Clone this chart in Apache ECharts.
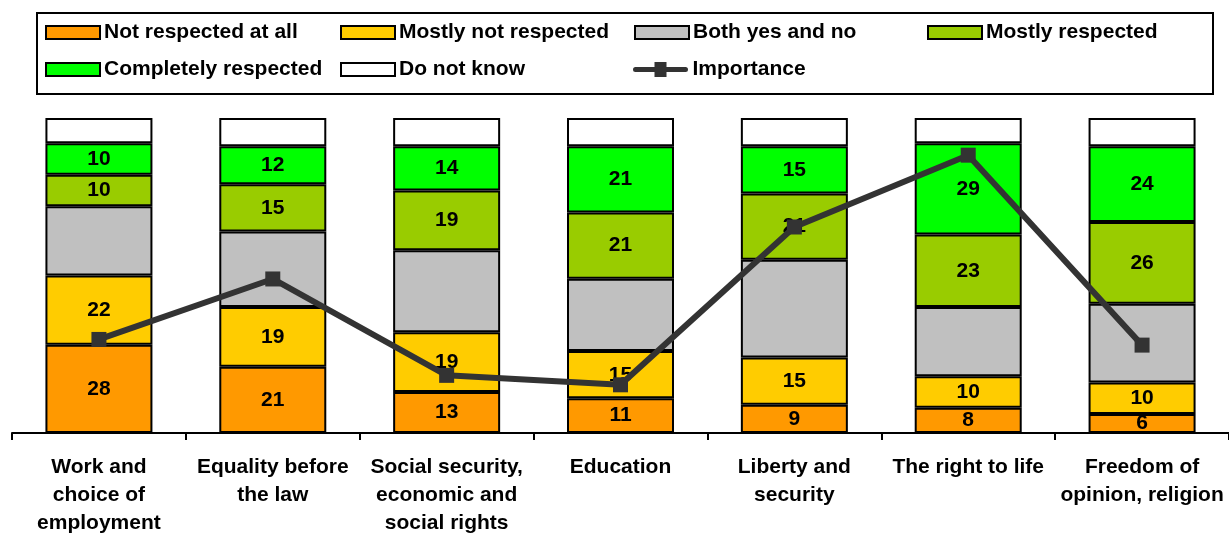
<!DOCTYPE html>
<html>
<head>
<meta charset="utf-8">
<script src="https://cdn.jsdelivr.net/npm/echarts@6/dist/echarts.min.js"></script>
<style>
html,body{margin:0;padding:0;background:#fff;}
#chart{width:1229px;height:537px;}
</style>
</head>
<body>
<div id="chart"></div>
<script>
const categories = [
  "Work and\nchoice of\nemployment",
  "Equality before\nthe law",
  "Social security,\neconomic and\nsocial rights",
  "Education",
  "Liberty and\nsecurity",
  "The right to life",
  "Freedom of\nopinion, religion"
];
const notRespected = [28, 21, 13, 11, 9, 8, 6];
const mostlyNot = [22, 19, 19, 15, 15, 10, 10];
const bothYesNo = [22, 24, 26, 23, 31, 22, 25];
const mostlyRespected = [10, 15, 19, 21, 21, 23, 26];
const completelyRespected = [10, 12, 14, 21, 15, 29, 24];
const doNotKnow = [8, 9, 9, 9, 9, 8, 9];
const importance = [29.7, 48.9, 18.3, 15.3, 65.4, 88.2, 27.9];

const FONT = '"Liberation Sans", Arial, sans-serif';
const chart = echarts.init(document.getElementById('chart'));

function barSeries(name, data, color, showLabel) {
  return {
    name: name, type: 'bar', stack: 'total', data: data, barWidth: 107,
    itemStyle: { color: color, borderColor: '#000', borderWidth: 2 },
    label: { show: showLabel, position: 'inside', color: '#000', fontWeight: 'bold', fontSize: 21, fontFamily: FONT },
    emphasis: { disabled: true }
  };
}

const LINE_ICON = 'path://M3,5 L22,5 L22,0 L34,0 L34,5 L53,5 A2.5,2.5 0 0 1 53,10 L34,10 L34,15 L22,15 L22,10 L3,10 A2.5,2.5 0 0 1 3,5 Z';

function leg(name, x, y, isLine) {
  return {
    data: [name], left: x, top: y, padding: 0,
    itemWidth: isLine ? 56 : 54, itemHeight: isLine ? 15 : 13, itemGap: 0,
    icon: isLine ? LINE_ICON : 'rect',
    selectedMode: false,
    textStyle: { fontSize: 21, fontWeight: 'bold', fontFamily: FONT, color: '#000', lineHeight: 21, padding: [0,0,0,-1] }
  };
}

chart.setOption({
  animation: false,
  backgroundColor: '#fff',
  graphic: [{
    type: 'rect', shape: { x: 37, y: 13, width: 1176, height: 81 },
    style: { fill: 'none', stroke: '#000', lineWidth: 2 }, z: 100
  }],
  legend: [
    leg('Not respected at all', 45, 22),
    leg('Mostly not respected', 340, 22),
    leg('Both yes and no', 634, 22),
    leg('Mostly respected', 927, 22),
    leg('Completely respected', 45, 59),
    leg('Do not know', 340, 59),
    leg('Importance', 633, 59, true)
  ],
  grid: { left: 12, right: 0, top: 118, bottom: 98, containLabel: false },
  xAxis: {
    type: 'category', data: categories,
    axisLine: { lineStyle: { color: '#000', width: 2 } },
    axisTick: { show: true, length: 7, lineStyle: { color: '#000', width: 2 } },
    axisLabel: { color: '#000', fontSize: 21, fontWeight: 'bold', fontFamily: FONT, lineHeight: 28, margin: 20, interval: 0 }
  },
  yAxis: { type: 'value', min: 0, max: 100, show: false, splitLine: { show: false } },
  series: [
    barSeries('Not respected at all', notRespected, '#FF9900', true),
    barSeries('Mostly not respected', mostlyNot, '#FFCC00', true),
    barSeries('Both yes and no', bothYesNo, '#C0C0C0', false),
    barSeries('Mostly respected', mostlyRespected, '#99CC00', true),
    barSeries('Completely respected', completelyRespected, '#00FF00', true),
    barSeries('Do not know', doNotKnow, '#FFFFFF', false),
    {
      name: 'Importance', type: 'line', data: importance,
      symbol: 'rect', symbolSize: 15,
      lineStyle: { color: '#333333', width: 6 },
      itemStyle: { color: '#333333' },
      z: 10, emphasis: { disabled: true }
    }
  ]
});
</script>
</body>
</html>
